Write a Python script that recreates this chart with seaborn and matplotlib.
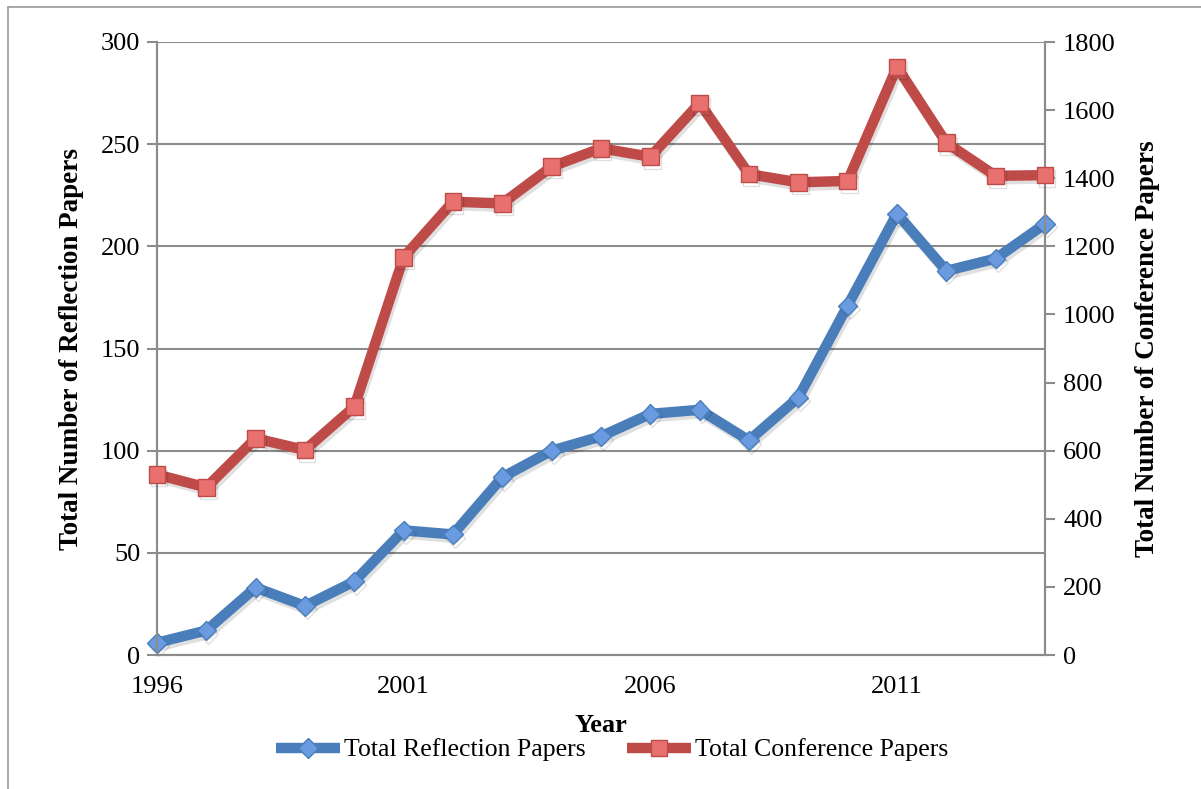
import matplotlib
matplotlib.use("Agg")
import matplotlib.pyplot as plt
import matplotlib.patheffects as pe
import seaborn as sns
import pandas as pd
from matplotlib.lines import Line2D

years = [1996, 1997, 1998, 1999, 2000, 2001, 2002, 2003, 2004, 2005,
         2006, 2007, 2008, 2009, 2010, 2011, 2012, 2013, 2014]
reflection = [6, 12, 33, 24, 36, 61, 59, 87, 100, 107,
              118, 120, 105, 126, 171, 216, 188, 194, 211]
conference = [530, 492, 636, 602, 729, 1168, 1331, 1326, 1434, 1488,
              1463, 1621, 1412, 1388, 1392, 1727, 1504, 1407, 1409]
xticks = [1996, 2001, 2006, 2011]
left_ticks = [0, 50, 100, 150, 200, 250, 300]
right_ticks = [0, 200, 400, 600, 800, 1000, 1200, 1400, 1600, 1800]

df = pd.DataFrame({"Year": years, "Reflection": reflection, "Conference": conference})

sns.set_style("white")
plt.rcParams["font.family"] = ["Liberation Serif", "DejaVu Serif"]
plt.rcParams["text.color"] = "black"
plt.rcParams["axes.labelcolor"] = "black"

blue = "#4A7EBB"
blue_m = "#6A9BE0"
red = "#BE4B48"
red_m = "#E8716F"
grid_c = "#8C8C8C"

shadow = [pe.SimpleLineShadow(offset=(1.5, -2.5), shadow_color="#000000", alpha=0.12), pe.Normal()]

fig = plt.figure(figsize=(12.01, 7.89), dpi=100)
ax = fig.add_axes([157/1201, 1-655/789, (1045-157)/1201, (655-42)/789])
ax2 = ax.twinx()

sns.lineplot(data=df, x="Year", y="Reflection", ax=ax, color=blue, linewidth=7.5,
             marker="D", markersize=10, markerfacecolor=blue_m, markeredgecolor=blue,
             markeredgewidth=1, clip_on=False, zorder=3, path_effects=shadow)
sns.lineplot(data=df, x="Year", y="Conference", ax=ax2, color=red, linewidth=7.5,
             marker="s", markersize=12, markerfacecolor=red_m, markeredgecolor=red,
             markeredgewidth=1, clip_on=False, zorder=3, path_effects=shadow)

ax.set_xlim(1996, 2014)
ax.set_ylim(0, 300)
ax2.set_ylim(0, 1800)
ax.set_xticks(xticks)
ax.set_yticks(left_ticks)
ax2.set_yticks(right_ticks)

ax.yaxis.grid(True, color=grid_c, linewidth=1.5)
ax.set_axisbelow(True)

for a in (ax, ax2):
    a.spines["top"].set_visible(False)
    for s in ("left", "right", "bottom"):
        a.spines[s].set_color(grid_c)
        a.spines[s].set_linewidth(1.5)
    a.tick_params(axis="both", colors=grid_c, width=1.5, length=7,
                  labelsize=19, labelcolor="black", direction="out")
ax.tick_params(axis="x", pad=8)
ax.tick_params(axis="y", pad=5)
ax2.tick_params(axis="y", pad=6)

ax.set_xlabel("Year", fontsize=19, fontweight="bold")
ax.set_ylabel("Total Number of Reflection Papers", fontsize=19.5, fontweight="bold", labelpad=12)
ax2.set_ylabel("Total Number of Conference Papers", fontsize=19.5, fontweight="bold", labelpad=14)
ax.xaxis.set_label_coords(0.5, -0.097)

handles = [
    Line2D([], [], color=blue, linewidth=7.5, marker="D", markersize=10,
           markerfacecolor=blue_m, markeredgecolor=blue, solid_capstyle="butt"),
    Line2D([], [], color=red, linewidth=7.5, marker="s", markersize=12,
           markerfacecolor=red_m, markeredgecolor=red, solid_capstyle="butt"),
]
fig.legend(handles, ["Total Reflection Papers", "Total Conference Papers"],
           loc="center", bbox_to_anchor=(612/1201, 1-750/789), ncol=2, frameon=False,
           fontsize=18.5, handlelength=2.5, handletextpad=0.15, columnspacing=1.6)

# outer chart frame (left and top)
fig.add_artist(Line2D([8/1201, 8/1201], [0, 1-7/789], color="#9A9A9A", linewidth=1.2))
fig.add_artist(Line2D([8/1201, 1], [1-7/789, 1-7/789], color="#9A9A9A", linewidth=1.2))

fig.savefig("out.png", dpi=100)
